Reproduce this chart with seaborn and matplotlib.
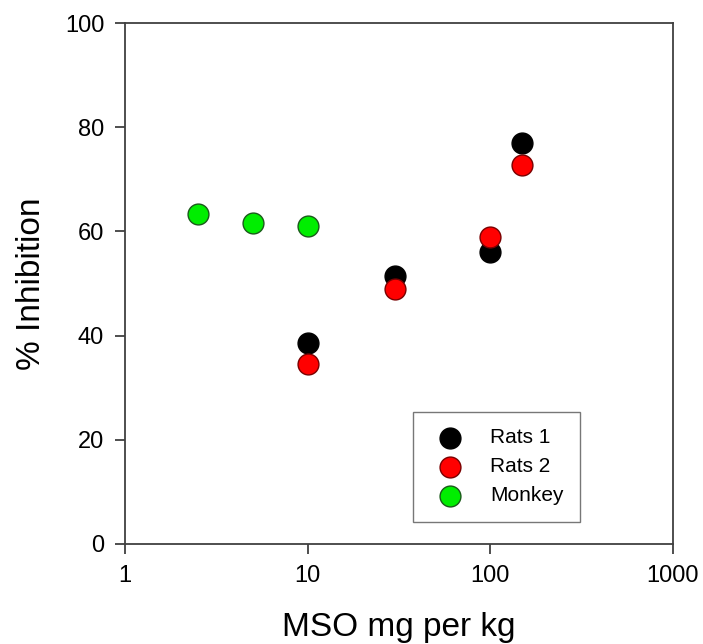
import numpy as np
import pandas as pd
import matplotlib
matplotlib.use("Agg")
import matplotlib.pyplot as plt
import seaborn as sns

# valores
dose_rats = [10, 30, 100, 150]
rats1 = [38.5, 51.5, 56.0, 77.0]
rats2 = [34.5, 49.0, 59.0, 72.8]
dose_monkey = [2.5, 5, 10]
monkey = [63.4, 61.7, 61.0]

grupos = ["Rats 1", "Rats 2", "Monkey"]
cores = ["#000000", "#ff0000", "#00ee00"]
bordas = ["#000000", "#7a0000", "#1a5a1a"]

df = pd.concat([
    pd.DataFrame({"dose": dose_rats, "inib": rats1, "grupo": "Rats 1"}),
    pd.DataFrame({"dose": dose_rats, "inib": rats2, "grupo": "Rats 2"}),
    pd.DataFrame({"dose": dose_monkey, "inib": monkey, "grupo": "Monkey"}),
])

sns.set_style("white")
plt.rcParams["font.family"] = ["Liberation Sans", "DejaVu Sans"]
plt.rcParams["text.color"] = "black"
plt.rcParams["axes.labelcolor"] = "black"
plt.rcParams["xtick.color"] = "black"
plt.rcParams["ytick.color"] = "black"

fig = plt.figure(figsize=(7.03, 6.44), dpi=100)
ax = fig.add_axes([125 / 703, 100 / 644, 548 / 703, 521 / 644])

for g, c, b in zip(grupos, cores, bordas):
    sub = df[df["grupo"] == g]
    sns.scatterplot(data=sub, x="dose", y="inib", ax=ax, color=c,
                    edgecolor=b, linewidth=1.0, s=225, label=g, zorder=3)

ax.set_xscale("log")
ax.set_xlim(1, 1000)
ax.set_ylim(0, 100)
ax.set_xticks([1, 10, 100, 1000])
ax.set_xticklabels(["1", "10", "100", "1000"])
ax.minorticks_off()
ax.set_yticks([0, 20, 40, 60, 80, 100])

for s in ax.spines.values():
    s.set_color("#404040")
    s.set_linewidth(1.3)

ax.tick_params(axis="both", which="major", direction="out", length=7,
               width=1.3, color="#404040", labelsize=17, pad=8,
               labelcolor="black",
               bottom=True, left=True, top=False, right=False)

ax.set_xlabel("MSO mg per kg", fontsize=24, labelpad=18)
ax.set_ylabel("% Inhibition", fontsize=24, labelpad=13)

leg = ax.legend(loc="upper left", bbox_to_anchor=(0.526, 0.253),
                fontsize=15, frameon=True, fancybox=False,
                borderpad=0.78, labelspacing=0.48, handletextpad=0.9,
                handlelength=2.0, borderaxespad=0, markerscale=1.0)
leg.get_frame().set_edgecolor("#555555")
leg.get_frame().set_linewidth(1.0)
for t in leg.get_texts():
    t.set_color("black")

fig.savefig("out.png", dpi=100)
